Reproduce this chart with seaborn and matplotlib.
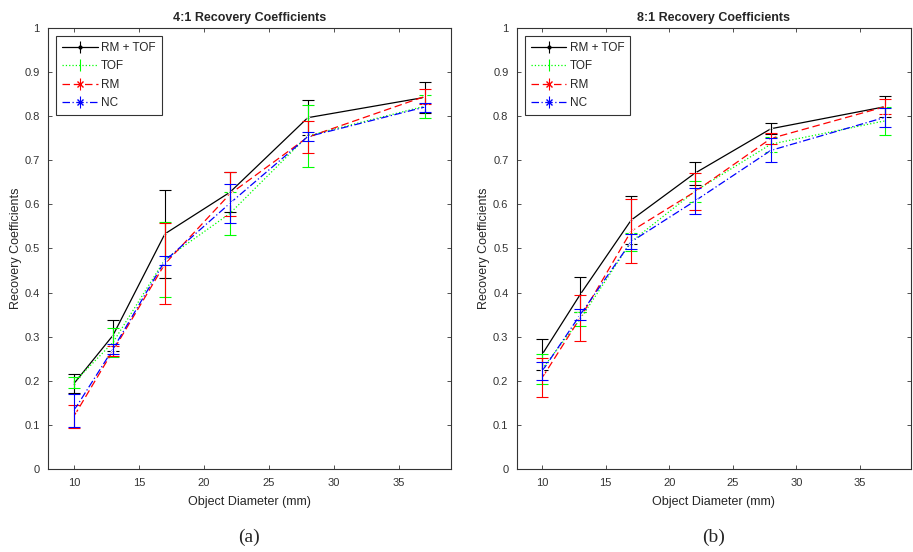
import pandas as pd
import matplotlib
matplotlib.use("Agg")
import matplotlib.pyplot as plt
import seaborn as sns

# values
diameters = [10, 13, 17, 22, 28, 37]
methods = ["RM + TOF", "TOF", "RM", "NC"]

rc_41 = {
    "RM + TOF": [0.194, 0.303, 0.533, 0.627, 0.796, 0.842],
    "TOF":      [0.197, 0.287, 0.475, 0.579, 0.755, 0.822],
    "RM":       [0.120, 0.268, 0.465, 0.623, 0.752, 0.844],
    "NC":       [0.133, 0.272, 0.472, 0.602, 0.753, 0.820],
}
err_41 = {
    "RM + TOF": [0.022, 0.035, 0.100, 0.045, 0.040, 0.035],
    "TOF":      [0.012, 0.033, 0.085, 0.048, 0.070, 0.026],
    "RM":       [0.026, 0.012, 0.092, 0.050, 0.037, 0.018],
    "NC":       [0.037, 0.011, 0.010, 0.044, 0.010, 0.010],
}
rc_81 = {
    "RM + TOF": [0.260, 0.396, 0.564, 0.670, 0.771, 0.821],
    "TOF":      [0.227, 0.340, 0.515, 0.629, 0.736, 0.789],
    "RM":       [0.207, 0.343, 0.539, 0.628, 0.749, 0.821],
    "NC":       [0.222, 0.350, 0.515, 0.607, 0.722, 0.797],
}
err_81 = {
    "RM + TOF": [0.035, 0.040, 0.055, 0.026, 0.012, 0.024],
    "TOF":      [0.035, 0.016, 0.021, 0.024, 0.017, 0.032],
    "RM":       [0.044, 0.052, 0.072, 0.042, 0.012, 0.017],
    "NC":       [0.020, 0.013, 0.017, 0.030, 0.027, 0.022],
}

colors = {"RM + TOF": "#000000", "TOF": "#00FF00", "RM": "#FF0000", "NC": "#0000FF"}
linestyles = {"RM + TOF": "-", "TOF": ":", "RM": (0, (6, 3)), "NC": (0, (6, 2, 1, 2))}
markers = {"RM + TOF": ".", "TOF": "", "RM": "x", "NC": "x"}

sns.set_style("ticks")
plt.rcParams["font.family"] = ["Liberation Sans", "DejaVu Sans"]


def to_long(rc, err):
    rows = []
    for m in methods:
        for d, v, e in zip(diameters, rc[m], err[m]):
            rows.append({"diameter": d, "rc": v, "err": e, "method": m})
    return pd.DataFrame(rows)


def draw_panel(ax, rc, err, title, tag):
    df = to_long(rc, err)
    for m in methods:
        sub = df[df["method"] == m]
        sns.lineplot(data=sub, x="diameter", y="rc", ax=ax, color=colors[m],
                     linestyle=linestyles[m], linewidth=0.9, marker=markers[m] or None,
                     markersize=4, markeredgewidth=0.8, legend=False)
        ax.errorbar(sub["diameter"], sub["rc"], yerr=sub["err"], fmt="none",
                    ecolor=colors[m], elinewidth=0.8, capsize=4, capthick=0.8)
        # empty errorbar just for the legend entry
        ax.errorbar([], [], yerr=[], color=colors[m], linestyle=linestyles[m],
                    marker=markers[m] or None, markersize=4, linewidth=0.9,
                    capsize=4, elinewidth=0.8, label=m)
    ax.set_xlim(8, 39)
    ax.set_ylim(0, 1)
    ax.set_xticks([10, 15, 20, 25, 30, 35])
    ax.set_yticks([i / 10 for i in range(11)])
    ax.set_yticklabels(["0", "0.1", "0.2", "0.3", "0.4", "0.5", "0.6", "0.7", "0.8", "0.9", "1"])
    ax.tick_params(direction="in", top=True, right=True, length=3, width=0.6,
                   labelsize=8, colors="#333333", pad=6)
    for s in ax.spines.values():
        s.set_linewidth(0.8)
        s.set_color("#333333")
    ax.set_title(title, fontsize=9, weight="bold", pad=5)
    ax.set_xlabel("Object Diameter (mm)", fontsize=9, labelpad=6)
    ax.set_ylabel("Recovery Coefficients", fontsize=9, labelpad=2)
    leg = ax.legend(loc="upper left", fontsize=8.5, frameon=True, fancybox=False,
                    edgecolor="black", borderaxespad=0.7, handlelength=3.0,
                    handletextpad=0.3, labelspacing=0.55, borderpad=0.5)
    leg.get_frame().set_linewidth(0.8)
    ax.text(0.5, -0.155, tag, transform=ax.transAxes, ha="center", va="center",
            fontsize=14, family="Liberation Serif")


fig = plt.figure(figsize=(9.13, 5.52), dpi=100)
ax1 = fig.add_axes([0.0526, 0.150, 0.441, 0.800])
ax2 = fig.add_axes([0.566, 0.150, 0.4315, 0.800])
draw_panel(ax1, rc_41, err_41, "4:1 Recovery Coefficients", "(a)")
draw_panel(ax2, rc_81, err_81, "8:1 Recovery Coefficients", "(b)")

fig.savefig("out.png", dpi=100)
